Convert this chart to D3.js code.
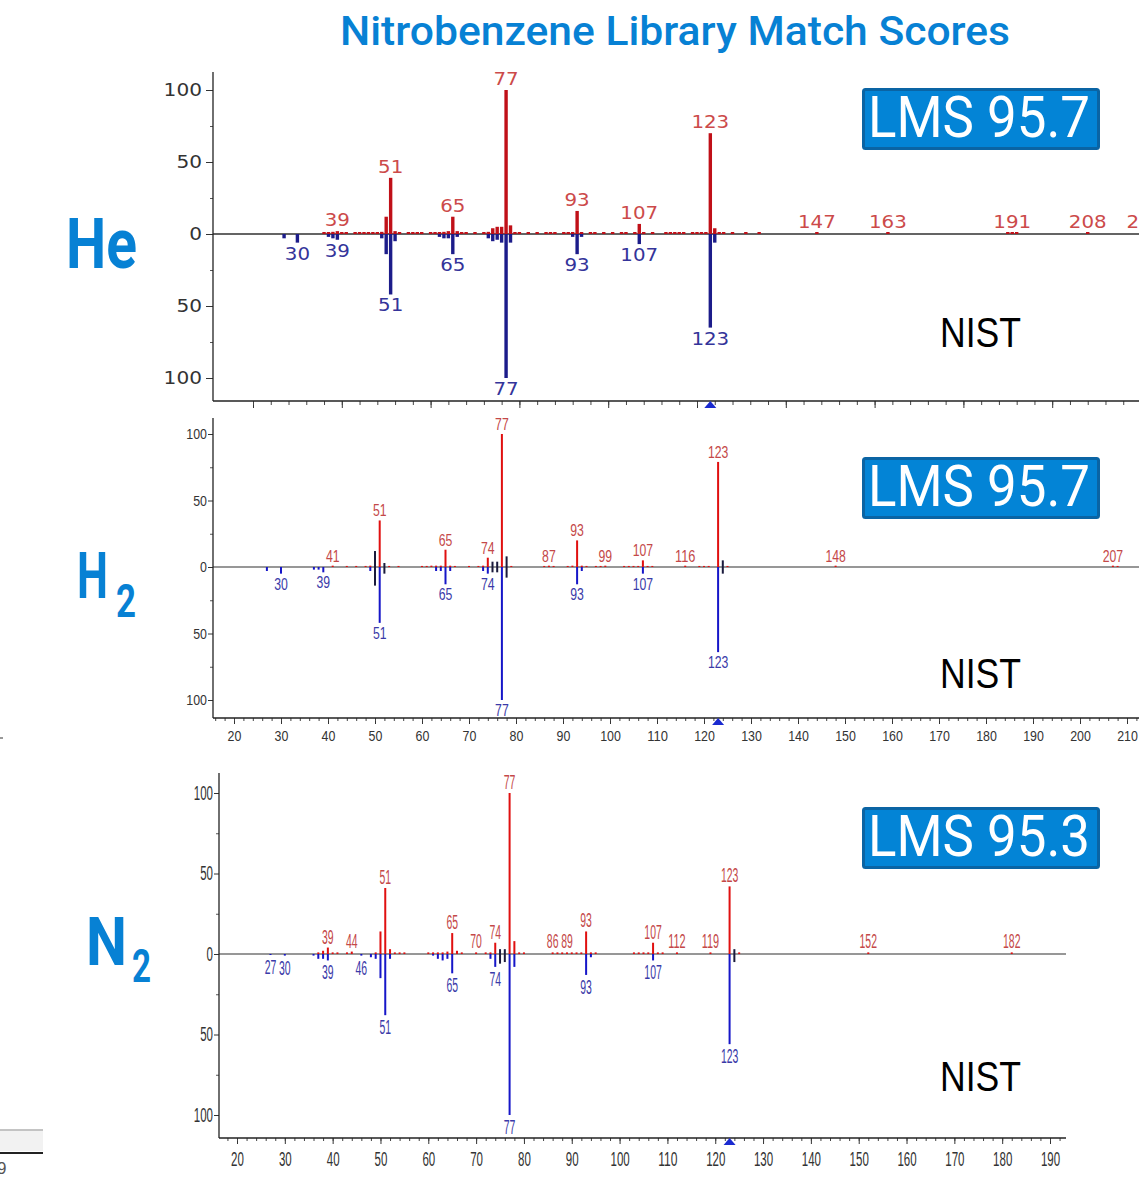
<!DOCTYPE html>
<html><head><meta charset="utf-8">
<script src="https://cdn.jsdelivr.net/npm/d3@7"></script>
<style>body{margin:0;background:#fff} svg{display:block}</style>
</head><body>
<svg id="c" width="1139" height="1178"></svg>
<script>
// ---------------- DATA ----------------
const chartTitle = "Nitrobenzene Library Match Scores";
const gasNames = ["He", "H", "N"];
const gasSubs = ["", "2", "2"];
const lmsScores = ["95.7", "95.7", "95.3"];
const refName = "NIST";
const yTickValues = [-100, -50, 0, 50, 100];
const yMinorValues = [-75, -25, 25, 75];

// He carrier gas: measured (up, red) and NIST (down, blue)  [m/z, relative intensity]
const heSample = [[36,0.7],[37,1],[38,1.5],[39,2],[40,0.7],[41,0.7],[43,0.7],[44,0.7],[45,0.7],[46,0.7],[47,0.7],[48,0.7],[49,1.5],[50,12],[51,39],[52,2],[53,0.7],[55,0.7],[56,0.7],[57,0.7],[58,0.7],[60,0.7],[61,0.7],[62,1],[63,1.5],[64,2],[65,12],[66,2],[67,0.7],[68,0.7],[70,0.7],[72,0.7],[73,1.5],[74,4],[75,5],[76,5],[77,100],[78,6],[79,0.7],[80,0.7],[82,0.7],[84,0.7],[86,0.7],[87,0.7],[88,0.7],[90,0.7],[91,0.7],[92,1],[93,16],[94,1],[96,0.7],[97,0.7],[99,0.7],[101,0.7],[103,0.7],[104,0.7],[106,0.7],[107,7],[108,0.7],[110,0.7],[113,0.7],[114,0.7],[115,0.7],[116,0.7],[117,0.7],[119,0.7],[120,0.7],[121,0.7],[122,1],[123,70],[124,4],[125,0.7],[126,0.7],[128,0.7],[131,0.7],[134,0.7],[147,0.7],[163,0.7],[190,0.7],[191,1],[192,0.7],[208,0.7],[221,0.7]];
const heNist = [[27,3],[30,6],[37,2],[38,3],[39,4],[49,3],[50,14],[51,42],[52,5],[62,2],[63,3],[64,3],[65,14],[66,2],[73,3],[74,5],[75,4],[76,6],[77,100],[78,6],[92,2],[93,14],[94,2],[107,7],[123,65],[124,6]];
const heShared = [];
const heLabelsTop = [39,51,65,77,93,107,123,147,163,191,208,221];
const heLabelsBottom = [30,39,51,65,77,93,107,123];

// H2 carrier gas
const h2Sample = [[41,1],[44,0.8],[46,0.8],[48,0.8],[49,1],[50,12],[51,35],[52,3],[53,0.8],[55,0.8],[60,0.8],[61,0.8],[62,1],[63,1],[64,1],[65,13],[66,1],[67,0.8],[70,0.8],[72,0.8],[73,1],[74,7],[75,4],[76,4],[77,100],[78,8],[79,0.8],[86,0.8],[87,1],[88,0.8],[91,0.8],[92,1],[93,20],[94,1],[95,0.8],[97,0.8],[98,0.8],[99,1],[103,0.8],[104,0.8],[105,0.8],[106,0.8],[107,5],[108,0.8],[109,0.8],[116,1],[119,0.8],[120,0.8],[121,0.8],[123,79],[124,5],[125,0.8],[148,1],[207,1],[208,0.8]];
const h2Nist = [[27,3],[30,5],[37,2],[38,2],[39,4],[49,3],[50,14],[51,42],[52,5],[63,3],[64,3],[65,13],[66,3],[73,3],[74,5],[75,4],[76,4],[77,100],[78,8],[93,13],[94,3],[107,5],[123,64],[124,5]];
const h2Shared = [50,52,75,76,78,124];
const h2LabelsTop = [41,51,65,74,77,87,93,99,107,116,123,148,207];
const h2LabelsBottom = [30,39,51,65,74,77,93,107,123];

// N2 carrier gas
const n2Sample = [[37,1],[38,2],[39,4],[40,1],[41,1],[43,1],[44,1.5],[49,1],[50,14],[51,41],[52,3],[53,1],[54,1],[55,1],[60,1],[61,1],[62,1],[63,1],[64,1.5],[65,13],[66,2],[67,1],[70,1],[72,1],[73,1],[74,7],[75,3],[76,3],[77,100],[78,8],[79,1],[80,1],[86,1],[87,1],[88,1],[89,1],[90,1],[91,1],[92,1],[93,14],[94,1],[95,1],[103,1],[104,1],[105,1],[106,1],[107,7],[108,1],[109,1],[112,1],[119,1],[123,42],[124,3],[125,1],[152,1],[182,1]];
const n2Nist = [[27,0.5],[30,1],[36,1],[37,3],[38,3],[39,4],[46,1],[48,2],[49,3],[50,15],[51,38],[52,3],[61,1],[62,3],[63,4],[64,3],[65,12],[73,3],[74,8],[75,6],[76,5],[77,100],[78,8],[93,13],[94,2],[107,4],[123,56],[124,5]];
const n2Shared = [75,76,124];
const n2LabelsTop = [39,44,51,65,70,74,77,86,89,93,107,112,119,123,152,182];
const n2LabelsBottom = [27,30,39,46,51,65,74,77,93,107,123];

// ---------------- LAYOUT / STYLE ----------------
const BLUE_BRAND = "#0781d4";
const NARROW = "'Liberation Sans Narrow','Liberation Sans',Arial,sans-serif";
const svg = d3.select("#c");

const panels = [
  { sample: heSample, nist: heNist, shared: heShared, top: heLabelsTop, bottom: heLabelsBottom,
    xDomain: [20, 220], xRange: [253, 1141], yRange: [378, 90],
    axisX: 213, axisTop: 72, axisBottom: 401, axisEnd: 1139,
    xMajor: d3.range(20, 221, 20), xMinor: d3.range(20, 221, 4), majorLen: 7, minorLen: 4, xLabels: false,
    barW: 3.4, minH: 2, red: "#c01018", blue: "#1c1c8a", dark: "#1c1c3a",
    font: "'DejaVu Sans',Verdana,sans-serif", lblSize: 18, lblCw: 12.6,
    redLbl: "#cc4a4a", blueLbl: "#34349a", topOff: -5, botOff: 17,
    tickSize: 18, tickCw: 12.8, yTickLen: 7, yTickPad: 4, zeroW: 1.3,
    gas: { x: 66, y: 268, size: 70, len: 71 },
    box: { y: 88, base: 137 }, nistBase: 347 },
  { sample: h2Sample, nist: h2Nist, shared: h2Shared, top: h2LabelsTop, bottom: h2LabelsBottom,
    xDomain: [20, 210], xRange: [234, 1127], yRange: [700, 434],
    axisX: 213, axisTop: 418, axisBottom: 718, axisEnd: 1139,
    xMajor: d3.range(20, 211, 10), xMinor: d3.range(16, 216, 2), majorLen: 6, minorLen: 3, xLabels: true, xPad: 6,
    barW: 2, minH: 1, red: "#e01010", blue: "#1616c8", dark: "#1a1a3c",
    font: NARROW, lblSize: 16, lblCw: 6.8,
    redLbl: "#c44848", blueLbl: "#3a3aa8", topOff: -4, botOff: 16,
    tickSize: 15, tickCw: 6.9, yTickLen: 5, yTickPad: 1, zeroW: 1.2,
    gas: { x: 77, y: 598, size: 64, len: 31, sub: { x: 116, y: 617, size: 46, len: 20 } },
    box: { y: 457, base: 506 }, nistBase: 688 },
  { sample: n2Sample, nist: n2Nist, shared: n2Shared, top: n2LabelsTop, bottom: n2LabelsBottom,
    xDomain: [20, 190], xRange: [237, 1050], yRange: [1115, 793],
    axisX: 219, axisTop: 773, axisBottom: 1138, axisEnd: 1066,
    xMajor: d3.range(20, 191, 10), xMinor: d3.range(16, 195, 2), majorLen: 6, minorLen: 3, xLabels: true, xPad: 8,
    barW: 2, minH: 1, red: "#e01010", blue: "#1616c8", dark: "#1a1a3c",
    font: NARROW, lblSize: 20, lblCw: 5.8,
    redLbl: "#c44848", blueLbl: "#3a3aa8", topOff: -4, botOff: 19,
    tickSize: 20, tickCw: 6.4, yTickLen: 5, yTickPad: 1, zeroW: 1.2,
    gas: { x: 86, y: 965, size: 66, len: 41, sub: { x: 132, y: 982, size: 46, len: 19 } },
    box: { y: 807, base: 856 }, nistBase: 1091 }
];

function fitText(sel, cw) {
  sel.attr("textLength", function () { return this.textContent.length * cw; })
     .attr("lengthAdjust", "spacingAndGlyphs");
}

// Title
svg.append("text").attr("x", 675).attr("y", 45).attr("text-anchor", "middle")
  .attr("font-family", "Roboto,sans-serif").attr("font-weight", 500).attr("font-size", 41)
  .attr("fill", BLUE_BRAND).attr("textLength", 670).attr("lengthAdjust", "spacingAndGlyphs")
  .text(chartTitle);

panels.forEach((p, i) => {
  const g = svg.append("g");
  const x = d3.scaleLinear().domain(p.xDomain).range(p.xRange);
  const y = d3.scaleLinear().domain([-100, 100]).range(p.yRange);
  const y0 = y(0);
  const shared = new Set(p.shared);
  const sMap = new Map(p.sample), nMap = new Map(p.nist);

  // zero line
  g.append("line").attr("x1", p.axisX).attr("x2", p.axisEnd).attr("y1", y0).attr("y2", y0)
    .attr("stroke", "#303030").attr("stroke-width", p.zeroW);

  // bars up (sample)
  g.selectAll("rect.up").data(p.sample).join("rect").attr("class", "up")
    .attr("x", d => x(d[0]) - p.barW / 2).attr("width", p.barW)
    .attr("y", d => Math.min(y(d[1]), y0 - p.minH)).attr("height", d => Math.max(p.minH, y0 - y(d[1])))
    .attr("fill", d => shared.has(d[0]) ? p.dark : p.red);
  // bars down (NIST)
  g.selectAll("rect.dn").data(p.nist).join("rect").attr("class", "dn")
    .attr("x", d => x(d[0]) - p.barW / 2).attr("width", p.barW)
    .attr("y", y0).attr("height", d => Math.max(p.minH, y(-d[1]) - y0))
    .attr("fill", d => shared.has(d[0]) ? p.dark : p.blue);

  // peak labels
  const lt = g.selectAll("text.lt").data(p.top).join("text").attr("class", "lt")
    .attr("x", m => x(m)).attr("y", m => y(sMap.get(m) || 0) + p.topOff)
    .attr("text-anchor", "middle").attr("font-family", p.font).attr("font-size", p.lblSize)
    .attr("fill", p.redLbl).text(m => m);
  fitText(lt, p.lblCw);
  const lb = g.selectAll("text.lb").data(p.bottom).join("text").attr("class", "lb")
    .attr("x", m => x(m)).attr("y", m => y(-(nMap.get(m) || 0)) + p.botOff)
    .attr("text-anchor", "middle").attr("font-family", p.font).attr("font-size", p.lblSize)
    .attr("fill", p.blueLbl).text(m => m);
  fitText(lb, p.lblCw);

  // y axis
  const ya = g.append("g").attr("transform", `translate(${p.axisX},0)`)
    .call(d3.axisLeft(y).tickValues(yTickValues).tickFormat(d => Math.abs(d))
      .tickSize(p.yTickLen).tickPadding(p.yTickPad));
  ya.select(".domain").remove();
  ya.selectAll("line").attr("stroke", "#333");
  const yt = ya.selectAll("text").attr("font-family", p.font).attr("font-size", p.tickSize).attr("fill", "#333");
  fitText(yt, p.tickCw);
  const ym = g.append("g").attr("transform", `translate(${p.axisX},0)`)
    .call(d3.axisLeft(y).tickValues(yMinorValues).tickFormat("").tickSize(3));
  ym.select(".domain").remove();
  ym.selectAll("line").attr("stroke", "#555");
  g.append("line").attr("x1", p.axisX).attr("x2", p.axisX).attr("y1", p.axisTop).attr("y2", p.axisBottom)
    .attr("stroke", "#222").attr("stroke-width", 1.3);

  // x axis
  const xa = g.append("g").attr("transform", `translate(0,${p.axisBottom})`)
    .call(d3.axisBottom(x).tickValues(p.xMajor).tickSize(p.majorLen).tickPadding(p.xPad || 3)
      .tickFormat(p.xLabels ? d3.format("d") : ""));
  xa.select(".domain").remove();
  xa.selectAll("line").attr("stroke", "#333");
  if (p.xLabels) {
    const xt = xa.selectAll("text").attr("font-family", p.font).attr("font-size", p.tickSize).attr("fill", "#333");
    fitText(xt, p.tickCw);
  }
  const xm = g.append("g").attr("transform", `translate(0,${p.axisBottom})`)
    .call(d3.axisBottom(x).tickValues(p.xMinor.filter(v => x(v) > p.axisX + 2 && x(v) < p.axisEnd))
      .tickSize(p.minorLen).tickFormat(""));
  xm.select(".domain").remove();
  xm.selectAll("line").attr("stroke", "#444");
  g.append("line").attr("x1", p.axisX).attr("x2", p.axisEnd).attr("y1", p.axisBottom).attr("y2", p.axisBottom)
    .attr("stroke", "#222").attr("stroke-width", 1.3);

  // base-peak marker (blue triangle) under the molecular ion
  const tx = x(123), ty = p.axisBottom;
  g.append("path").attr("d", `M${tx - 6},${ty + 7}L${tx + 6},${ty + 7}L${tx},${ty}Z`).attr("fill", "#1a2ad0");

  // gas label
  svg.append("text").attr("x", p.gas.x).attr("y", p.gas.y)
    .attr("font-family", "Roboto,sans-serif").attr("font-weight", 700).attr("font-size", p.gas.size)
    .attr("fill", BLUE_BRAND).attr("textLength", p.gas.len).attr("lengthAdjust", "spacingAndGlyphs")
    .text(gasNames[i]);
  if (gasSubs[i]) {
    svg.append("text").attr("x", p.gas.sub.x).attr("y", p.gas.sub.y)
      .attr("font-family", "Roboto,sans-serif").attr("font-weight", 700).attr("font-size", p.gas.sub.size)
      .attr("fill", BLUE_BRAND).attr("textLength", p.gas.sub.len).attr("lengthAdjust", "spacingAndGlyphs")
      .text(gasSubs[i]);
  }

  // LMS score box
  svg.append("rect").attr("x", 863.5).attr("y", p.box.y + 1.5).attr("width", 235).attr("height", 59)
    .attr("rx", 2).attr("fill", "#0384d6").attr("stroke", "#0a64a4").attr("stroke-width", 3);
  svg.append("text").attr("x", 868).attr("y", p.box.base)
    .attr("font-family", "Roboto,sans-serif").attr("font-size", 58).attr("fill", "#fff")
    .attr("textLength", 222).attr("lengthAdjust", "spacingAndGlyphs")
    .text("LMS " + lmsScores[i]);

  // NIST label
  svg.append("text").attr("x", 940).attr("y", p.nistBase)
    .attr("font-family", NARROW).attr("font-size", 43).attr("fill", "#000")
    .attr("textLength", 81).attr("lengthAdjust", "spacingAndGlyphs").text(refName);
});

// small cropped-screenshot artifacts at the left edge
svg.append("rect").attr("x", 0).attr("y", 1131).attr("width", 43).attr("height", 20).attr("fill", "#f2f2f2");
svg.append("line").attr("x1", 0).attr("x2", 43).attr("y1", 1130).attr("y2", 1130).attr("stroke", "#888").attr("stroke-width", 1);
svg.append("line").attr("x1", 0).attr("x2", 43).attr("y1", 1153).attr("y2", 1153).attr("stroke", "#222").attr("stroke-width", 2);
svg.append("text").attr("x", -3).attr("y", 1174).attr("font-family", NARROW).attr("font-size", 17).attr("fill", "#555").text("9");
svg.append("line").attr("x1", 0).attr("x2", 3).attr("y1", 738).attr("y2", 738).attr("stroke", "#333");
</script>
</body></html>
